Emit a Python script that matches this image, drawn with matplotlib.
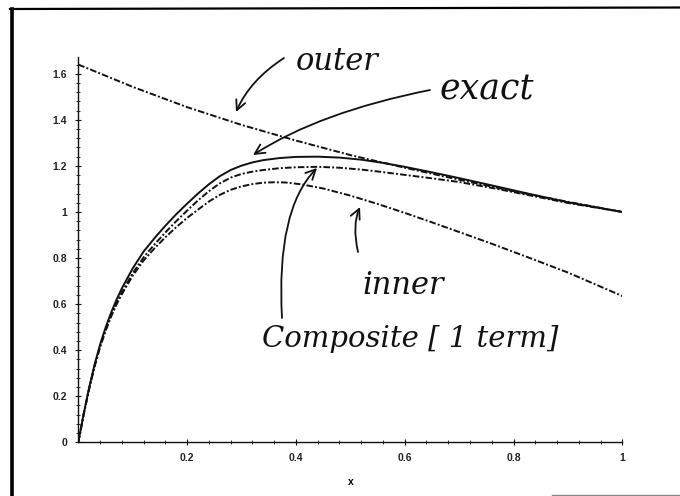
import matplotlib
matplotlib.use("Agg")
import matplotlib.pyplot as plt
from matplotlib.lines import Line2D
from matplotlib.patches import FancyArrowPatch
from matplotlib.path import Path

# Boundary-layer approximations on 0 <= x <= 1
exact_x = [0.0, 0.01, 0.02, 0.03, 0.04, 0.05, 0.06, 0.07, 0.08, 0.10, 0.12, 0.14, 0.16,
           0.18, 0.20, 0.22, 0.24, 0.26, 0.28, 0.30, 0.32, 0.34, 0.37, 0.40, 0.44, 0.48,
           0.52, 0.56, 0.60, 0.65, 0.70, 0.77, 0.83, 0.90, 1.0]
exact_y = [0.0, 0.125, 0.238, 0.338, 0.424, 0.497, 0.561, 0.618, 0.668, 0.755, 0.828, 0.886,
           0.94, 0.99, 1.036, 1.08, 1.12, 1.155, 1.182, 1.201, 1.215, 1.225, 1.234, 1.239,
           1.240, 1.236, 1.227, 1.213, 1.196, 1.172, 1.147, 1.11, 1.078, 1.042, 1.0]

comp_x = exact_x
comp_y = [0.0, 0.123, 0.234, 0.332, 0.416, 0.487, 0.549, 0.604, 0.651, 0.734, 0.803, 0.859,
          0.911, 0.96, 1.006, 1.05, 1.09, 1.124, 1.149, 1.165, 1.175, 1.182, 1.19, 1.194,
          1.196, 1.192, 1.184, 1.173, 1.161, 1.146, 1.13, 1.10, 1.072, 1.039, 1.0]

inner_x = [0.0, 0.01, 0.02, 0.03, 0.04, 0.05, 0.06, 0.07, 0.08, 0.10, 0.12, 0.14, 0.16,
           0.18, 0.20, 0.22, 0.24, 0.26, 0.28, 0.30, 0.32, 0.34, 0.36, 0.38, 0.41, 0.45,
           0.50, 0.55, 0.60, 0.65, 0.70, 0.76, 0.83, 0.90, 1.0]
inner_y = [0.0, 0.123, 0.233, 0.33, 0.413, 0.483, 0.544, 0.597, 0.643, 0.723, 0.789, 0.842,
           0.89, 0.934, 0.974, 1.01, 1.045, 1.074, 1.096, 1.111, 1.121, 1.127, 1.129, 1.128,
           1.12, 1.102, 1.071, 1.035, 0.996, 0.955, 0.913, 0.862, 0.8, 0.737, 0.635]

outer_x = [0.0, 0.1, 0.2, 0.3, 0.4, 0.5, 0.6, 0.7, 0.8, 0.9, 1.0]
outer_y = [1.64, 1.543, 1.455, 1.378, 1.31, 1.247, 1.192, 1.14, 1.09, 1.044, 1.0]

y_ticks = [0, 0.2, 0.4, 0.6, 0.8, 1.0, 1.2, 1.4, 1.6]
y_labels = ["0", "0.2", "0.4", "0.6", "0.8", "1", "1.2", "1.4", "1.6"]
x_ticks = [0.2, 0.4, 0.6, 0.8, 1.0]
x_labels = ["0.2", "0.4", "0.6", "0.8", "1"]

W, H = 680, 496
fig = plt.figure(figsize=(W / 100, H / 100), dpi=100)
fig.patch.set_facecolor("white")

def fx(px):
    return px / W

def fy(py):
    return 1 - py / H

ax = fig.add_axes([fx(78.3), fy(442.3), fx(622.3) - fx(78.3), fy(56.7) - fy(442.3)])
ax.set_xlim(0, 1)
ax.set_ylim(0, 1.674)

ink = "#111111"
dashdot = (0, (3.4, 1.1, 1.0, 1.1))
ax.plot(exact_x, exact_y, color=ink, lw=1.4, solid_capstyle="round")
ax.plot(comp_x, comp_y, color=ink, lw=1.4, linestyle=dashdot)
ax.plot(inner_x, inner_y, color=ink, lw=1.4, linestyle=dashdot)
ax.plot(outer_x, outer_y, color=ink, lw=1.4, linestyle=dashdot)

for side in ("top", "right"):
    ax.spines[side].set_visible(False)
for side in ("left", "bottom"):
    ax.spines[side].set_linewidth(1.0)
    ax.spines[side].set_color(ink)

tick_font = dict(family="Liberation Sans", size=7.5, weight="bold")
ax.set_yticks(y_ticks)
ax.set_yticklabels(y_labels, **tick_font)
ax.set_xticks(x_ticks)
ax.set_xticklabels(x_labels, **tick_font)
ax.set_yticks([i * 0.04 for i in range(42) if i % 5], minor=True)
ax.set_xticks([i * 0.04 for i in range(26) if i % 5], minor=True)
ax.tick_params(which="major", direction="inout", length=4, width=0.8, color=ink,
               labelcolor="#222222", pad=6)
ax.tick_params(which="minor", direction="inout", length=2.5, width=0.6, color=ink)
ax.set_xlabel("x", family="Liberation Sans", size=7.5, weight="bold", labelpad=10)

# Scanned page frame
fig.add_artist(Line2D([fx(11.5), fx(11.5)], [fy(9), fy(496)], color="black", lw=2.6))
fig.add_artist(Line2D([fx(10), fx(680)], [fy(9), fy(7.5)], color="black", lw=1.6))
fig.add_artist(Line2D([fx(552), fx(680)], [fy(495), fy(495)], color="#888888", lw=1.0))

# Handwritten notes
hand = dict(family="DejaVu Serif", style="italic", color=ink)
fig.text(fx(296), fy(70), "outer", fontsize=22, ha="left", va="baseline", **hand)
fig.text(fx(440), fy(100), "exact", fontsize=25, ha="left", va="baseline", **hand)
fig.text(fx(362), fy(294), "inner", fontsize=22, ha="left", va="baseline", **hand)
fig.text(fx(262), fy(347), "Composite [ 1 term]", fontsize=21, ha="left", va="baseline", **hand)

def note_arrow(points):
    verts = [(fx(px), fy(py)) for px, py in points]
    codes = [Path.MOVETO] + [Path.CURVE3] * (len(verts) - 1)
    arrow = FancyArrowPatch(path=Path(verts, codes), transform=fig.transFigure,
                            arrowstyle="->,head_length=7,head_width=3.5",
                            color=ink, lw=1.3)
    fig.add_artist(arrow)

note_arrow([(284, 58), (250, 80), (236, 112)])
note_arrow([(430, 90), (320, 112), (253, 155)])
note_arrow([(358, 252), (352, 225), (360, 207)])
note_arrow([(282, 318), (276, 210), (317, 168)])

fig.savefig("out.png", dpi=100, facecolor="white")
